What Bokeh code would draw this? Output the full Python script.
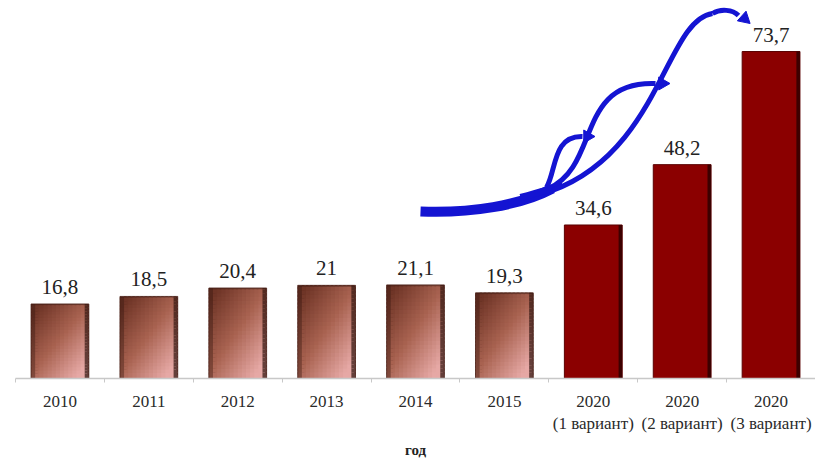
from bokeh.plotting import figure
from bokeh.models import FixedTicker, Range1d
from bokeh.embed import file_html
from bokeh.resources import INLINE
from bokeh.core.properties import value
import numpy as np

# Data
years = ["2010", "2011", "2012", "2013", "2014", "2015",
         "2020\n(1 вариант)", "2020\n(2 вариант)", "2020\n(3 вариант)"]
values = [16.8, 18.5, 20.4, 21.0, 21.1, 19.3, 34.6, 48.2, 73.7]
value_labels = ["16,8", "18,5", "20,4", "21", "21,1", "19,3", "34,6", "48,2", "73,7"]
is_forecast = [False] * 6 + [True] * 3

BAR_W = 0.65
centers = np.arange(len(values)) + 0.5

p = figure(frame_width=800, frame_height=378,
           min_border_left=15, min_border_right=0, min_border_top=0,
           min_border_bottom=85,
           x_range=Range1d(0, len(values)), y_range=Range1d(0, 85.2),
           output_backend="svg", toolbar_location=None,
           background_fill_color="white", border_fill_color="white")
p.outline_line_color = None
p.grid.visible = False
p.yaxis.visible = False


def lerp(c1, c2, t):
    return tuple(a + (b - a) * t for a, b in zip(c1, c2))


def hexc(c):
    return "#%02x%02x%02x" % tuple(int(max(0, min(255, round(v)))) for v in c)


# Historic bars: brown with a diagonal sheen, drawn as overlapping cells
dark = (110, 52, 38)
mid = (168, 98, 80)
light = (230, 168, 165)
edge = (45, 18, 12)
nx, ny = 14, 24
L, R, B, T, C = [], [], [], [], []
for cx, v, fc in zip(centers, values, is_forecast):
    if fc:
        continue
    x0 = cx - BAR_W / 2
    x1 = cx + BAR_W / 2
    dx = BAR_W / nx
    dy = v / ny
    for j in range(ny - 1, -1, -1):
        w = (j + 0.5) / ny  # fraction of height from bottom
        for i in range(nx):
            u = (i + 0.5) / nx
            t = 0.6 * u + 0.65 * (1 - w) - 0.12
            t = max(0.0, min(1.0, t))
            if t < 0.5:
                col = lerp(dark, mid, t / 0.5)
            else:
                col = lerp(mid, light, (t - 0.5) / 0.5)
            if i == 0:
                col = lerp(col, edge, 0.35)
            if i == nx - 1:
                col = lerp(col, edge, 0.7)
            if j == ny - 1:
                col = lerp(col, edge, 0.3)
            L.append(x0 + i * dx)
            R.append(min(x1, x0 + (i + 1.6) * dx) if i < nx - 1 else x1)
            B.append(j * dy)
            T.append(min(v, (j + 1.6) * dy))
            C.append(hexc(col))
p.quad(left=L, right=R, bottom=B, top=T, fill_color=C, line_color=None)

# thin outline around the historic bars
hx = [c for c, f in zip(centers, is_forecast) if not f]
hv = [v for v, f in zip(values, is_forecast) if not f]
p.vbar(x=hx, top=hv, width=BAR_W, fill_color=None, line_color="#4a2016", line_width=0.8)

# Forecast bars: dark red
fx = [c for c, f in zip(centers, is_forecast) if f]
fv = [v for v, f in zip(values, is_forecast) if f]
p.vbar(x=fx, top=fv, width=BAR_W, fill_color="#8b0000", line_color="#5a0000", line_width=1)
# shadow strip on the right edge of the forecast bars
p.vbar(x=[c + BAR_W / 2 - 0.02 for c in fx], top=fv, width=0.04,
       fill_color="#3c0000", line_color=None)

# value labels
p.text(x=centers, y=values, text=value_labels, text_align="center",
       text_baseline="bottom", y_offset=-10,
       text_font=value("Liberation Serif"), text_font_size="21px",
       text_color="#222222")

# Blue growth arrows (traced curves converted to data space)
def px(xp):
    return (xp - 15) / (800 / 9)


def py(yp):
    return (378 - yp) / (378 / 85.2)


blue = "#1414d2"
# thick trunk
p.bezier(x0=px(420), y0=py(211), x1=px(552), y1=py(188),
         cx0=px(470), cy0=py(213), cx1=px(520), cy1=py(205),
         line_color=blue, line_width=10)
p.bezier(x0=px(520), y0=py(197), x1=px(562), y1=py(184),
         cx0=px(535), cy0=py(193), cx1=px(550), cy1=py(189),
         line_color=blue, line_width=7)
# branch 1
p.bezier(x0=px(546), y0=py(187), x1=px(582), y1=py(136),
         cx0=px(556), cy0=py(170), cx1=px(552), cy1=py(135),
         line_color=blue, line_width=5)
# branch 2
p.bezier(x0=px(548), y0=py(188), x1=px(655), y1=py(83),
         cx0=px(600), cy0=py(165), cx1=px(575), cy1=py(80),
         line_color=blue, line_width=5)
# branch 3
p.bezier(x0=px(552), y0=py(190), x1=px(712), y1=py(13),
         cx0=px(660), cy0=py(150), cx1=px(665), cy1=py(20),
         line_color=blue, line_width=5)
p.bezier(x0=px(712), y0=py(13), x1=px(738), y1=py(15),
         cx0=px(720), cy0=py(8), cx1=px(732), cy1=py(9),
         line_color=blue, line_width=5)
# arrow heads
p.triangle(x=[px(587), px(662), px(744)], y=[py(136), py(83), py(18)],
           angle=[-1.5708, -1.5708, -2.3], size=13, fill_color=blue, line_color=blue)

# Axis
p.xaxis.ticker = FixedTicker(ticks=list(centers), minor_ticks=list(range(len(values) + 1)))
p.xaxis.major_label_overrides = {float(c): lab for c, lab in zip(centers, years)}
p.xaxis.major_tick_line_color = None
p.xaxis.major_tick_out = 0
p.xaxis.major_tick_in = 0
p.xaxis.minor_tick_out = 4
p.xaxis.minor_tick_in = 0
p.xaxis.minor_tick_line_color = "#c8c8c8"
p.xaxis.axis_line_color = "#c8c8c8"
p.xaxis.axis_line_width = 1.5
p.xaxis.major_label_text_font = "Liberation Serif"
p.xaxis.major_label_text_font_size = "17px"
p.xaxis.major_label_text_color = "#2a2a2a"
p.xaxis.major_label_standoff = 9
p.xaxis.axis_label = "год"
p.xaxis.axis_label_text_font = "Liberation Serif"
p.xaxis.axis_label_text_font_style = "bold"
p.xaxis.axis_label_text_font_size = "15px"
p.xaxis.axis_label_text_color = "#222222"
p.xaxis.axis_label_standoff = 6

open("out.html", "w").write(file_html(p, INLINE))
